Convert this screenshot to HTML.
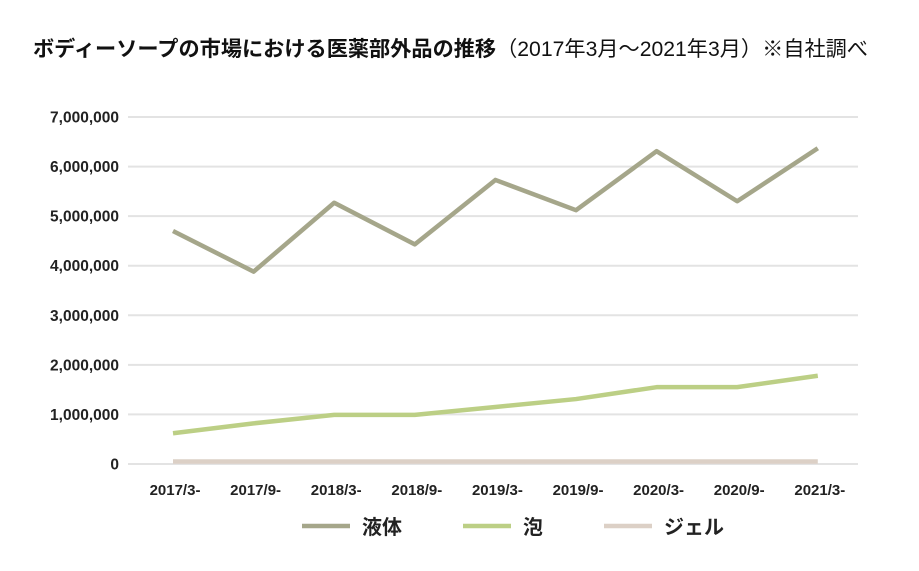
<!DOCTYPE html>
<html><head><meta charset="utf-8"><style>
body{margin:0;background:#fff;width:919px;height:571px;overflow:hidden}
svg{display:block}
</style></head><body>
<svg width="919" height="571" font-family="'Liberation Sans','Noto Sans CJK JP',sans-serif">
<text x="33" y="56" font-size="21" font-weight="bold" fill="#111" textLength="835" lengthAdjust="spacingAndGlyphs">ボディーソープの市場における医薬部外品の推移<tspan font-weight="normal">（2017年3月～2021年3月）※自社調べ</tspan></text>
<g id="grid"></g>
<g id="yl"></g>
<g id="xl"></g>
<g id="lines"></g>
<g id="legend"></g>
</svg>
<script>
const categories=["2017/3-","2017/9-","2018/3-","2018/9-","2019/3-","2019/9-","2020/3-","2020/9-","2021/3-"];
const liquid=[4700000,3880000,5270000,4430000,5730000,5120000,6310000,5300000,6370000];
const foam=[620000,820000,990000,990000,1150000,1310000,1550000,1550000,1780000];
const gel=[50000,50000,50000,50000,50000,50000,50000,50000,50000];
const yTicks=[0,1000000,2000000,3000000,4000000,5000000,6000000,7000000];
const seriesNames=["液体","泡","ジェル"];
const colors=["#a5a68a","#bccf85","#dcd0c6"];
const NS="http://www.w3.org/2000/svg";
const y=v=>464-v/7000000*347;
const x=i=>173+i*80.6;
function mk(t,a,p){const e=document.createElementNS(NS,t);for(const k in a)e.setAttribute(k,a[k]);p.appendChild(e);return e;}
const grid=document.getElementById('grid'),yl=document.getElementById('yl'),xl=document.getElementById('xl'),lines=document.getElementById('lines'),lg=document.getElementById('legend');
yTicks.forEach(v=>{
 const l=mk('line',{x1:128,x2:858,y1:y(v),y2:y(v),stroke:'#e3e3e3','stroke-width':2},grid);
 
 
 const t=mk('text',{x:119,y:y(v)+5.5,'text-anchor':'end','font-size':15.5,'font-weight':'bold',fill:'#222'},yl);
 t.textContent=v.toLocaleString('en-US');
 
 
});
categories.forEach((c,i)=>{
 const t=mk('text',{x:x(i)+2,y:495,'text-anchor':'middle','font-size':15,'font-weight':'bold',fill:'#222'},xl);
 t.textContent=c;
 
 
});
[gel,foam,liquid].forEach((s,k)=>{
 const idx=2-k;
 const p=mk('polyline',{points:s.map((v,i)=>x(i)+','+y(v)).join(' '),fill:'none',stroke:colors[idx],'stroke-width':4.5,'stroke-linejoin':'round'},lines);
 
 
});
const lx=[302,463,604];
seriesNames.forEach((n,i)=>{
 const l=mk('line',{x1:lx[i],x2:lx[i]+48,y1:526,y2:526,stroke:colors[i],'stroke-width':4.5},lg);
 
 
 const t=mk('text',{x:lx[i]+60,y:534,'font-size':20,'font-weight':'bold',fill:'#222'},lg);
 t.textContent=n;
 
 
});
</script>
</body></html>
